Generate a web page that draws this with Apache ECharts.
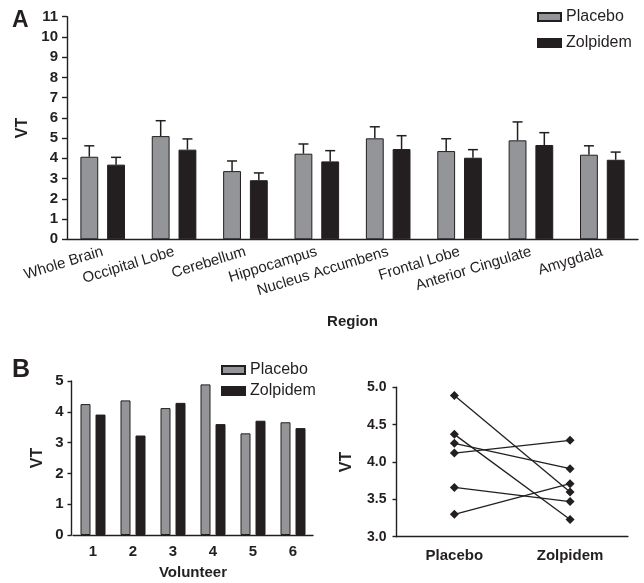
<!DOCTYPE html>
<html>
<head>
<meta charset="utf-8">
<script src="https://cdn.jsdelivr.net/npm/echarts@6/dist/echarts.min.js"></script>
<style>
html,body{margin:0;padding:0;background:#fff;}
#chart{width:644px;height:583px;}
</style>
</head>
<body>
<div id="chart"></div>
<script>
// ---- Data ----
var regions = ['Whole Brain','Occipital Lobe','Cerebellum','Hippocampus','Nucleus Accumbens','Frontal Lobe','Anterior Cingulate','Amygdala'];
var placeboRegion = [4.08, 5.10, 3.37, 4.23, 4.99, 4.36, 4.89, 4.18];
var zolpidemRegion = [3.69, 4.43, 2.92, 3.85, 4.46, 4.03, 4.66, 3.93];
var placeboErr = [0.54, 0.76, 0.50, 0.48, 0.57, 0.61, 0.91, 0.44];
var zolpidemErr = [0.36, 0.53, 0.36, 0.53, 0.66, 0.40, 0.61, 0.38];

var volunteers = ['1','2','3','4','5','6'];
var placeboVol = [4.25, 4.37, 4.12, 4.89, 3.30, 3.66];
var zolpidemVol = [3.91, 3.23, 4.29, 3.60, 3.71, 3.47];

var conditions = ['Placebo','Zolpidem'];
var yTicksA = [0,1,2,3,4,5,6,7,8,9,10,11];

// ---- Styles ----
var FONT = "'Liberation Sans', Arial, Helvetica, sans-serif";
var DARK = '#231f20';
var GRAY = '#939598';

var chart = echarts.init(document.getElementById('chart'), null, {renderer:'canvas'});

function errRender(sign){
  return function(params, api){
    var x = api.value(0), v = api.value(1), e = api.value(2);
    var base = api.coord([x, v]);
    var top = api.coord([x, v + e]);
    var band = api.size([1, 0])[0];
    var cx = base[0] + sign * band * 0.1875;
    var half = 5;
    var st = {stroke: DARK, lineWidth: 1.5};
    return {type:'group', children:[
      {type:'line', shape:{x1:cx, y1:base[1], x2:cx, y2:top[1]}, style:st},
      {type:'line', shape:{x1:cx-half, y1:top[1], x2:cx+half, y2:top[1]}, style:st}
    ]};
  };
}

var axisLineStyle = {lineStyle:{color:DARK, width:1.4}};
var tickStyle = {lineStyle:{color:DARK, width:1.4}};

var lineSeries = placeboVol.map(function(p, i){
  return {
    name:'v' + (i+1), type:'line', xAxisIndex:2, yAxisIndex:2,
    data:[p, zolpidemVol[i]],
    symbol:'diamond', symbolSize:9,
    lineStyle:{color:DARK, width:1.3},
    itemStyle:{color:DARK},
    silent:true, animation:false
  };
});

var option = {
  animation:false,
  textStyle:{fontFamily:FONT, color:DARK},
  title:[
    {text:'A', left:12, top:9, padding:0, textStyle:{fontFamily:FONT, fontSize:23, fontWeight:'bold', color:DARK}},
    {text:'B', left:12, top:358, padding:0, textStyle:{fontFamily:FONT, fontSize:25, fontWeight:'bold', color:DARK}}
  ],
  legend:[
    {data:conditions, orient:'vertical', left:537, top:8, padding:0, itemGap:8,
     itemWidth:23, itemHeight:8, icon:'rect',
     textStyle:{fontFamily:FONT, fontSize:16, color:DARK, lineHeight:18}},
    {data:conditions, orient:'vertical', left:221, top:361, padding:0, itemGap:3,
     itemWidth:23, itemHeight:8, icon:'rect',
     textStyle:{fontFamily:FONT, fontSize:16, color:DARK, lineHeight:18}}
  ],
  grid:[
    {left:67, top:16.7, width:571, height:222.6},
    {left:73, top:381, width:240, height:154},
    {left:396.5, top:387.3, width:231.4, height:149.4}
  ],
  xAxis:[
    {type:'category', gridIndex:0, data:regions,
     axisLine:axisLineStyle, axisTick:{alignWithLabel:true, length:5, lineStyle:tickStyle.lineStyle},
     axisLabel:{rotate:17, margin:12, fontFamily:FONT, fontSize:15, color:DARK, interval:0},
     name:'Region', nameLocation:'middle', nameGap:75,
     nameTextStyle:{fontFamily:FONT, fontSize:15, fontWeight:'bold', color:DARK}},
    {type:'category', gridIndex:1, data:volunteers,
     axisLine:axisLineStyle, axisTick:{alignWithLabel:true, length:4, lineStyle:tickStyle.lineStyle},
     axisLabel:{margin:9, fontFamily:FONT, fontSize:15, fontWeight:'bold', color:DARK},
     name:'Volunteer', nameLocation:'middle', nameGap:30,
     nameTextStyle:{fontFamily:FONT, fontSize:15, fontWeight:'bold', color:DARK}},
    {type:'category', gridIndex:2, data:conditions,
     axisLine:axisLineStyle, axisTick:{alignWithLabel:true, length:5, lineStyle:tickStyle.lineStyle},
     axisLabel:{margin:12, fontFamily:FONT, fontSize:15, fontWeight:'bold', color:DARK}}
  ],
  yAxis:[
    {type:'value', gridIndex:0, min:yTicksA[0], max:yTicksA[yTicksA.length-1], interval:1,
     axisLine:{show:true, lineStyle:axisLineStyle.lineStyle},
     axisTick:{show:true, length:5, lineStyle:tickStyle.lineStyle},
     splitLine:{show:false},
     axisLabel:{margin:9, fontFamily:FONT, fontSize:15, fontWeight:'bold', color:DARK},
     name:'VT', nameLocation:'middle', nameGap:35,
     nameTextStyle:{fontFamily:FONT, fontSize:16, fontWeight:'bold', color:DARK}},
    {type:'value', gridIndex:1, min:0, max:5, interval:1, offset:1.5,
     axisLine:{show:true, lineStyle:axisLineStyle.lineStyle},
     axisTick:{show:true, length:4, lineStyle:tickStyle.lineStyle},
     splitLine:{show:false},
     axisLabel:{margin:8, fontFamily:FONT, fontSize:15, fontWeight:'bold', color:DARK},
     name:'VT', nameLocation:'middle', nameGap:26,
     nameTextStyle:{fontFamily:FONT, fontSize:16, fontWeight:'bold', color:DARK}},
    {type:'value', gridIndex:2, min:3.0, max:5.0, interval:0.5,
     axisLine:{show:true, lineStyle:axisLineStyle.lineStyle},
     axisTick:{show:true, length:4, lineStyle:tickStyle.lineStyle},
     splitLine:{show:false},
     axisLabel:{margin:10, fontFamily:FONT, fontSize:14, fontWeight:'bold', color:DARK,
       formatter:function(v){return v.toFixed(1);}},
     name:'VT', nameLocation:'middle', nameGap:42,
     nameTextStyle:{fontFamily:FONT, fontSize:16, fontWeight:'bold', color:DARK}}
  ],
  series:[
    {name:'Placebo', type:'bar', xAxisIndex:0, yAxisIndex:0, data:placeboRegion,
     barWidth:'25%', barGap:'50%', itemStyle:{color:GRAY, borderColor:DARK, borderWidth:1}},
    {name:'Zolpidem', type:'bar', xAxisIndex:0, yAxisIndex:0, data:zolpidemRegion,
     barWidth:'25%', barGap:'50%', itemStyle:{color:DARK, borderColor:DARK, borderWidth:1}},
    {name:'Placebo err', type:'custom', xAxisIndex:0, yAxisIndex:0, z:3,
     renderItem:errRender(-1),
     data:placeboRegion.map(function(v,i){return [i, v, placeboErr[i]];})},
    {name:'Zolpidem err', type:'custom', xAxisIndex:0, yAxisIndex:0, z:3,
     renderItem:errRender(1),
     data:zolpidemRegion.map(function(v,i){return [i, v, zolpidemErr[i]];})},
    {name:'Placebo', type:'bar', xAxisIndex:1, yAxisIndex:1, data:placeboVol,
     barWidth:'25%', barGap:'50%', itemStyle:{color:GRAY, borderColor:DARK, borderWidth:1}},
    {name:'Zolpidem', type:'bar', xAxisIndex:1, yAxisIndex:1, data:zolpidemVol,
     barWidth:'25%', barGap:'50%', itemStyle:{color:DARK, borderColor:DARK, borderWidth:1}}
  ].concat(lineSeries)
};
chart.setOption(option);
</script>
</body>
</html>
